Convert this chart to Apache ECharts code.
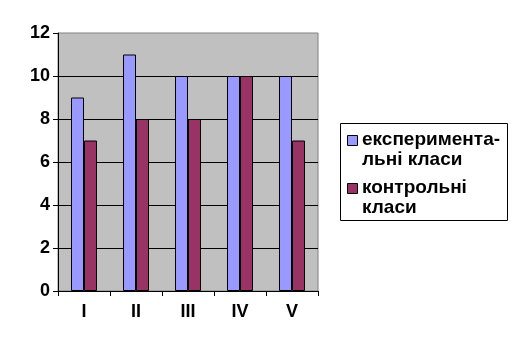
<!DOCTYPE html>
<html><head><meta charset="utf-8">
<script src="https://cdn.jsdelivr.net/npm/echarts@6/dist/echarts.min.js"></script>
<style>html,body{margin:0;padding:0;background:#fff}#c{width:517px;height:344px}</style>
</head><body><div id="c"></div>
<script>
var categories = ['I', 'II', 'III', 'IV', 'V'];
var experimental = [9, 11, 10, 10, 10];
var control = [7, 8, 8, 10, 7];
var seriesNames = ['експериментальні класи', 'контрольні класи'];
var legendLabels = ['експеримента-\nльні класи', 'контрольні\nкласи'];
var seriesColors = ['#9999FF', '#993366'];
var yTicks = [0, 2, 4, 6, 8, 10, 12];

var chart = echarts.init(document.getElementById('c'), null, {renderer: 'canvas'});
var font = 'Arial, "Liberation Sans", sans-serif';

var legendGraphics = [{type: 'rect', left: 340, top: 123, shape: {width: 167, height: 97},
  style: {fill: '#fff', stroke: '#000', lineWidth: 1}}];
legendLabels.forEach(function (lbl, i) {
  var y0 = 130 + i * 48;
  legendGraphics.push({type: 'rect', left: 347, top: y0 + 5, shape: {width: 10, height: 10},
    style: {fill: seriesColors[i], stroke: '#000', lineWidth: 1}});
  legendGraphics.push({type: 'text', left: 362, top: y0,
    style: {text: lbl, font: 'bold 19px ' + font, fill: '#000', lineHeight: 20}});
});

chart.setOption({
  animation: false,
  grid: {left: 58, top: 33, width: 260, height: 258, show: true, backgroundColor: '#C0C0C0', borderColor: '#808080', borderWidth: 1},
  legend: {show: false, data: seriesNames},
  graphic: legendGraphics,
  xAxis: {
    type: 'category', data: categories,
    axisLine: {lineStyle: {color: '#000', width: 1}},
    axisTick: {show: true, length: 5, lineStyle: {color: '#000'}},
    axisLabel: {fontFamily: font, fontSize: 18, fontWeight: 'bold', color: '#000', margin: 12}
  },
  yAxis: {
    type: 'value', min: 0, max: 12, interval: 2,
    axisLine: {show: true, lineStyle: {color: '#000', width: 1}},
    axisTick: {show: true, length: 5, lineStyle: {color: '#000'}},
    splitLine: {showMaxLine: false, lineStyle: {color: '#000', width: 1}},
    axisLabel: {fontFamily: font, fontSize: 18, fontWeight: 'bold', color: '#000', margin: 8,
      formatter: function (v) { return yTicks.indexOf(v) >= 0 ? String(v) : ''; }}
  },
  series: [
    {name: seriesNames[0], type: 'bar', data: experimental, barGap: '0%', barCategoryGap: '50%',
     itemStyle: {color: seriesColors[0], borderColor: '#000', borderWidth: 1}},
    {name: seriesNames[1], type: 'bar', data: control,
     itemStyle: {color: seriesColors[1], borderColor: '#000', borderWidth: 1}}
  ]
});
</script></body></html>
